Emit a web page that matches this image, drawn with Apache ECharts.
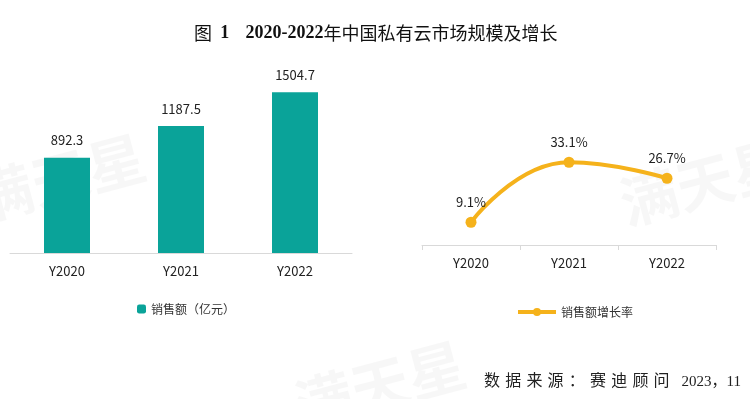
<!DOCTYPE html>
<html>
<head>
<meta charset="utf-8">
<script src="https://cdn.jsdelivr.net/npm/echarts@6/dist/echarts.min.js"></script>
<style>
  html, body { margin: 0; padding: 0; background: #fff; }
  #wrap { position: relative; width: 750px; height: 399px; }
  #main { width: 750px; height: 399px; }
  .src {
    position: absolute; top: 367px; color: #222; white-space: nowrap;
    font-family: "Liberation Serif", "Noto Sans CJK SC", serif;
  }
  #srcName { left: 484px; font-size: 16px; letter-spacing: 5.2px; }
  #srcDate { right: 9px; top: 369px; font-size: 15px; }
</style>
</head>
<body>
<div id="wrap">
  <div id="main"></div>
  <div class="src" id="srcName">数据来源：赛迪顾问</div>
  <div class="src" id="srcDate">2023，11</div>
</div>
<script>
// 数据
var years = ['Y2020', 'Y2021', 'Y2022'];
var sales = [892.3, 1187.5, 1504.7];      // 销售额（亿元）
var growth = [9.1, 33.1, 26.7];           // 销售额增长率 %

var chart = echarts.init(document.getElementById('main'));

var markFont = '"Noto Sans CJK SC", "Noto Sans", sans-serif';
var serifFont = '"Liberation Serif", "DejaVu Serif", "Noto Sans CJK SC", serif';

// 水印
function watermark(x, y) {
  return {
    type: 'text',
    x: x, y: y,
    rotation: Math.PI / 12,
    silent: true,
    z: -10,
    style: {
      text: '满天星',
      font: 'bold 58px ' + markFont,
      fill: 'rgba(0,0,0,0.03)',
      align: 'center',
      verticalAlign: 'middle'
    }
  };
}

var option = {
  backgroundColor: '#fff',
  textStyle: { fontFamily: markFont },
  title: {
    text: '{a|图}  {b|1}    {b|2020-2022}{c|年中国私有云市场规模及增长}',
    left: 189,
    top: 19,
    textStyle: {
      rich: {
        a: { fontFamily: '"Noto Sans CJK SC", serif', fontSize: 18, color: '#111', fontWeight: 'normal' },
        b: { fontFamily: serifFont, fontSize: 18, color: '#111', fontWeight: 'bold' },
        c: { fontFamily: '"Noto Sans CJK SC", serif', fontSize: 18, color: '#111', fontWeight: 'normal' }
      }
    }
  },
  graphic: [
    watermark(60, 178),
    watermark(705, 182),
    watermark(380, 385)
  ],
  legend: [
    {
      data: ['销售额（亿元）'],
      left: 132,
      top: 298,
      itemWidth: 9,
      itemHeight: 9,
      itemGap: 4,
      textStyle: { fontSize: 12, color: '#333' }
    },
    {
      data: ['销售额增长率'],
      left: 511,
      top: 301,
      itemWidth: 38,
      itemHeight: 10,
      itemGap: 4,
      lineStyle: { width: 4 },
      textStyle: { fontSize: 12, color: '#333' }
    }
  ],
  grid: [
    { left: 10, width: 342, top: 82, height: 171 },
    { left: 422, width: 294, top: 145, height: 100 }
  ],
  xAxis: [
    {
      gridIndex: 0,
      type: 'category',
      data: years,
      axisLine: { lineStyle: { color: '#d9d9d9', width: 1 } },
      axisTick: { show: false },
      axisLabel: { color: '#222', fontSize: 13, margin: 12 }
    },
    {
      gridIndex: 1,
      type: 'category',
      data: years,
      axisLine: { lineStyle: { color: '#d9d9d9', width: 1 } },
      axisTick: { show: true, length: 5, lineStyle: { color: '#d9d9d9' } },
      axisLabel: { color: '#222', fontSize: 13, margin: 12 }
    }
  ],
  yAxis: [
    { gridIndex: 0, type: 'value', min: 0, max: 1600, show: false },
    { gridIndex: 1, type: 'value', min: 0, max: 40, show: false }
  ],
  series: [
    {
      name: '销售额（亿元）',
      type: 'bar',
      xAxisIndex: 0,
      yAxisIndex: 0,
      data: sales,
      barWidth: 46,
      itemStyle: { color: '#0aa399' },
      label: {
        show: true,
        position: 'top',
        distance: 11,
        color: '#222',
        fontSize: 13
      }
    },
    {
      name: '销售额增长率',
      type: 'line',
      xAxisIndex: 1,
      yAxisIndex: 1,
      data: growth,
      smooth: true,
      symbol: 'circle',
      symbolSize: 11,
      lineStyle: { color: '#f5b21b', width: 4 },
      itemStyle: { color: '#f5b21b' },
      label: {
        show: true,
        position: 'top',
        distance: 8,
        color: '#222',
        fontSize: 13,
        formatter: function (p) { return p.value + '%'; }
      }
    }
  ]
};

chart.setOption(option);
window.addEventListener('resize', function () { chart.resize(); });
</script>
</body>
</html>
